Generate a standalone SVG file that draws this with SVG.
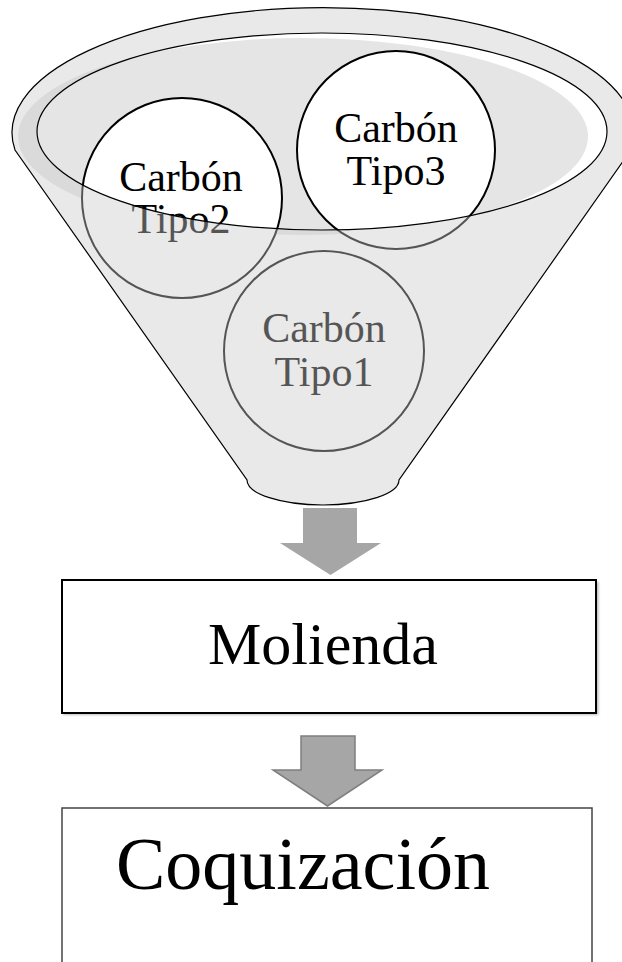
<svg xmlns="http://www.w3.org/2000/svg" width="622" height="962" viewBox="0 0 622 962">
  <style>
    .lbl { font-family: "Liberation Serif", "Times New Roman", serif; fill: #000; text-anchor: middle; }
    .small { font-size: 42px; }
    .ball { fill: #ffffff; stroke: #000; stroke-width: 2; }
    .arrow { fill: #a6a6a6; }
  </style>
  <defs>
    <filter id="soft" x="-5%" y="-5%" width="110%" height="110%">
      <feGaussianBlur stdDeviation="1.2"/>
    </filter>
  </defs>

  <rect width="622" height="962" fill="#ffffff"/>

  <!-- funnel: back of the bowl -->
  <g id="funnel-back">
    <ellipse cx="322" cy="131.5" rx="285" ry="98.5" fill="#ffffff"/>
    <ellipse cx="303" cy="136.5" rx="285" ry="98.5" fill="#e5e5e5"/>
  </g>

  <!-- items falling into the funnel -->
  <g id="carbon-tipo2">
    <circle class="ball" cx="182" cy="198" r="100"/>
    <text class="lbl small" x="181" y="191">Carbón</text>
    <text class="lbl small" x="181" y="233">Tipo2</text>
  </g>
  <g id="carbon-tipo3">
    <circle class="ball" cx="396" cy="150" r="99"/>
    <text class="lbl small" x="396" y="142">Carbón</text>
    <text class="lbl small" x="396" y="185">Tipo3</text>
  </g>
  <g id="carbon-tipo1">
    <circle class="ball" cx="324" cy="351" r="100"/>
    <text class="lbl small" x="324" y="342">Carbón</text>
    <text class="lbl small" x="324" y="386">Tipo1</text>
  </g>

  <!-- funnel: translucent front body with the open mouth cut out -->
  <g id="funnel-front">
    <path fill="#cacaca" fill-opacity="0.42" fill-rule="evenodd"
          d="M 15 150 A 311 125 0 1 1 631 150 L 399 480 A 76 25 0 0 1 247 480 Z
             M 37 131.5 A 285 98.5 0 1 0 607 131.5 A 285 98.5 0 1 0 37 131.5 Z"/>
    <path fill="none" stroke="#000" stroke-width="1.2"
          d="M 15 150 A 311 125 0 1 1 631 150 L 399 480 A 76 25 0 0 1 247 480 Z"/>
    <ellipse cx="322" cy="131.5" rx="285" ry="98.5" fill="none" stroke="#000" stroke-width="1.2"/>
  </g>

  <!-- connectors -->
  <g id="connectors">
    <path class="arrow" d="M 303 508 H 357 V 543 H 381 L 330.5 575 L 280 543 H 303 Z"/>
    <path class="arrow" stroke="#7f7f7f" stroke-width="1.5" stroke-linejoin="miter"
          d="M 301 736 H 355 V 770 H 382 L 327.5 806 L 273 770 H 301 Z"/>
  </g>

  <g id="molienda">
    <rect x="63.5" y="582" width="535" height="133" fill="#bdbdbd" filter="url(#soft)"/>
    <rect x="62" y="580" width="534" height="133" fill="#ffffff" stroke="#000" stroke-width="2"/>
    <text class="lbl" x="323" y="664" font-size="60">Molienda</text>
  </g>

  <g id="coquizacion">
    <rect x="62" y="808" width="530" height="170" fill="#ffffff" stroke="#444" stroke-width="1.5"/>
    <text class="lbl" x="303" y="889" font-size="74">Coquización</text>
  </g>
</svg>
